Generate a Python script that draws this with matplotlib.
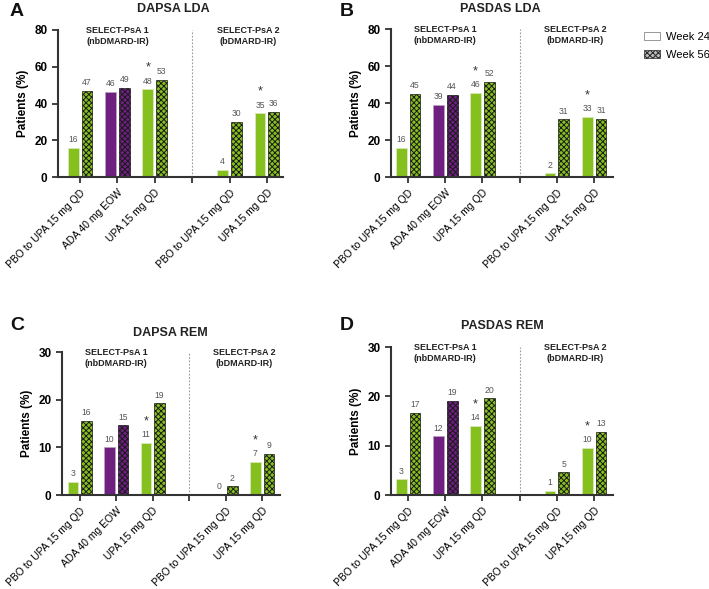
import numpy as np
from matplotlib import pyplot as plt
from matplotlib.patches import Patch
from matplotlib import transforms

plt.rcParams['font.family'] = ['Liberation Sans', 'DejaVu Sans']
plt.rcParams['hatch.linewidth'] = 0.7

# categories (slot 3 is the empty divider slot)
categories = ["PBO to UPA 15 mg QD", "ADA 40 mg EOW", "UPA 15 mg QD", "",
              "PBO to UPA 15 mg QD", "UPA 15 mg QD"]
bar_slots = [0, 1, 2, 4, 5]
is_ada = [False, True, False, False, False]
star_slots = [2, 5]

# values (%), order = bar_slots
dapsa_lda_w24 = [15.9, 46.2, 47.7, 3.8, 34.7]
dapsa_lda_w56 = [46.9, 48.6, 52.7, 30.2, 35.6]
pasdas_lda_w24 = [15.7, 39.1, 45.6, 2.0, 32.6]
pasdas_lda_w56 = [45.0, 44.4, 51.6, 31.2, 31.3]
dapsa_rem_w24 = [2.8, 10.0, 11.0, 0.0, 7.0]
dapsa_rem_w56 = [15.6, 14.6, 19.2, 1.8, 8.6]
pasdas_rem_w24 = [3.2, 11.9, 14.0, 0.9, 9.6]
pasdas_rem_w56 = [16.6, 19.1, 19.6, 4.6, 12.8]

green = '#86c01e'
purple = '#6e1f80'

panels = [
    # letter, title, w24, w56, ymax, yticks, axes rect, xlim, title xy, letter xy
    ("A", "DAPSA LDA", dapsa_lda_w24, dapsa_lda_w56, 80, [0, 20, 40, 60, 80],
     [58/709, 1-177/589, 225/709, 147/589], (-0.59, 5.43), (173, 9), (10, 11)),
    ("B", "PASDAS LDA", pasdas_lda_w24, pasdas_lda_w56, 80, [0, 20, 40, 60, 80],
     [391/709, 1-177/589, 222/709, 148/589], (-0.46, 5.51), (500, 9), (340, 11)),
    ("C", "DAPSA REM", dapsa_rem_w24, dapsa_rem_w56, 30, [0, 10, 20, 30],
     [62/709, 1-495/589, 218/709, 143/589], (-0.49, 5.49), (170, 333), (10, 326)),
    ("D", "PASDAS REM", pasdas_rem_w24, pasdas_rem_w56, 30, [0, 10, 20, 30],
     [391/709, 1-495/589, 222/709, 148/589], (-0.46, 5.51), (502, 326), (340, 326)),
]

fig = plt.figure(figsize=(7.09, 5.89), dpi=100)

w = 0.29
off = 0.185
for letter, title, w24, w56, ymax, yticks, rect, xlim, txy, lxy in panels:
    ax = fig.add_axes(rect)
    for i, s in enumerate(bar_slots):
        col = purple if is_ada[i] else green
        ax.bar(s - off, w24[i], w, color=col, edgecolor='#d8e8b8' if not is_ada[i] else '#b9a0c0',
               linewidth=0.6, zorder=2)
        ax.bar(s + off, w56[i], w, color=col, edgecolor='#1a1a1a', hatch='xxxxxx',
               linewidth=0.5, zorder=2)
        d = ymax * 0.025
        ax.text(s - off, w24[i] + d, "{:.0f}".format(w24[i]), ha='center', va='bottom',
                fontsize=6.2, color='#555555')
        ax.text(s + off, w56[i] + d, "{:.0f}".format(w56[i]), ha='center', va='bottom',
                fontsize=6.2, color='#555555')
        if s in star_slots:
            ax.text(s - off, w24[i] + ymax * 0.105, "*", ha='center', va='bottom',
                    fontsize=9, color='#333333')
    ax.axvline(3, ymin=0, ymax=1.0, color='#999999', linestyle=(0, (1.5, 1.5)),
               linewidth=0.8, zorder=1)
    ax.set_xlim(xlim)
    ax.set_ylim(0, ymax)
    ax.set_yticks(yticks)
    ax.set_xticks(range(len(categories)))
    ax.set_xticklabels(categories, rotation=45, ha='right', rotation_mode='anchor',
                       fontsize=7.5)
    for lab in ax.get_yticklabels():
        lab.set_fontweight('bold')
    ax.tick_params(axis='y', labelsize=8.5, width=1.3, length=4, color='#333333')
    ax.tick_params(axis='x', width=1.3, length=4, color='#333333')
    for sp in ['top', 'right']:
        ax.spines[sp].set_visible(False)
    for sp in ['left', 'bottom']:
        ax.spines[sp].set_linewidth(1.5)
        ax.spines[sp].set_color('#333333')
    ax.set_ylabel("Patients (%)", fontsize=8.5, fontweight='bold', labelpad=4)
    tr = transforms.blended_transform_factory(ax.transData, ax.transAxes)
    ax.text(1, 1.03, "SELECT-PsA 1\n(nbDMARD-IR)", transform=tr, ha='center', va='top',
            fontsize=6.5, fontweight='bold', color='#222222', linespacing=1.3)
    ax.text(4.5, 1.03, "SELECT-PsA 2\n(bDMARD-IR)", transform=tr, ha='center', va='top',
            fontsize=6.5, fontweight='bold', color='#222222', linespacing=1.3)
    fig.text(txy[0]/709, 1 - txy[1]/589, title, ha='center', va='center',
             fontsize=9, fontweight='bold', color='#222222')
    fig.text(lxy[0]/709, 1 - lxy[1]/589, letter, ha='left', va='center',
             fontsize=14, fontweight='bold', color='#111111')

handles = [Patch(facecolor='white', edgecolor='#888888', linewidth=0.6, label='Week 24'),
           Patch(facecolor='#bbbbbb', edgecolor='#222222', hatch='xxxxxx', linewidth=0.5,
                 label='Week 56')]
fig.legend(handles=handles, loc='upper left', bbox_to_anchor=(644/709, 1 - 32/589),
           frameon=False, fontsize=8, handlelength=1.4, handleheight=0.7,
           handletextpad=0.6, labelspacing=0.7, borderpad=0, borderaxespad=0)

fig.savefig("out.png", dpi=100)
